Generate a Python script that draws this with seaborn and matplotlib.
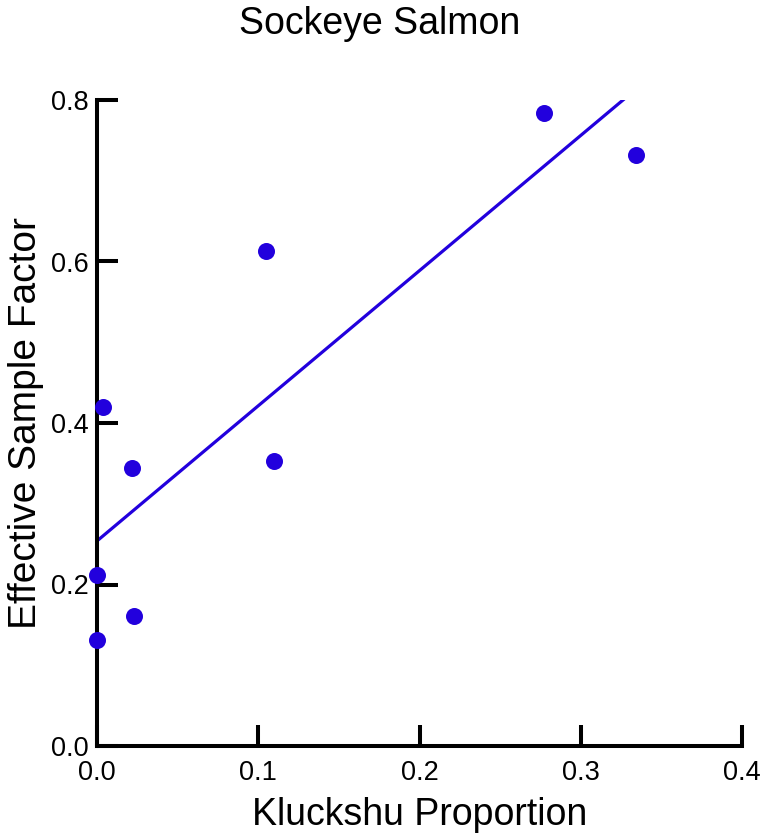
import seaborn as sns
import pandas as pd
import numpy as np
import matplotlib
matplotlib.use("Agg")
import matplotlib.pyplot as plt

sns.set_style("ticks")
plt.rcParams['font.family'] = ['Liberation Sans', 'DejaVu Sans']
plt.rcParams['text.color'] = 'black'
plt.rcParams['axes.labelcolor'] = 'black'
plt.rcParams['xtick.color'] = 'black'
plt.rcParams['ytick.color'] = 'black'

# values
kluckshu = [0.277, 0.334, 0.105, 0.004, 0.022, 0.110, 0.0, 0.023, 0.0]
factor = [0.784, 0.732, 0.613, 0.420, 0.344, 0.353, 0.212, 0.161, 0.131]
xticks = [0.0, 0.1, 0.2, 0.3, 0.4]
yticks = [0.0, 0.2, 0.4, 0.6, 0.8]

df = pd.DataFrame({"Kluckshu Proportion": kluckshu, "Effective Sample Factor": factor})
blue = "#2200DD"

fig = plt.figure(figsize=(7.68, 8.38), dpi=100)
ax = fig.add_axes([97/768, 92/838, 645/768, 646/838])
ax.set_xlim(0, 0.4)
ax.set_ylim(0, 0.8)

sns.regplot(data=df, x="Kluckshu Proportion", y="Effective Sample Factor", ax=ax,
            ci=None, truncate=False, color=blue,
            scatter_kws={"s": 150, "clip_on": False, "alpha": 1, "linewidths": 0, "zorder": 4},
            line_kws={"lw": 2.3})
ax.set_xlim(0, 0.4)
ax.set_ylim(0, 0.8)

ax.set_xticks(xticks)
ax.set_yticks(yticks)
ax.set_xticklabels([f"{t:.1f}" for t in xticks])
ax.set_yticklabels([f"{t:.1f}" for t in yticks])
ax.tick_params(direction="in", length=15, width=2.9, labelsize=19.5, color="black", labelcolor="black")
ax.tick_params(axis="x", pad=10)
ax.tick_params(axis="y", pad=6)
sns.despine(ax=ax)
for s in ["left", "bottom"]:
    ax.spines[s].set_linewidth(2.9)
    ax.spines[s].set_color("black")
    ax.spines[s].set_capstyle("projecting")

ax.set_xlabel("Kluckshu Proportion", fontsize=27, labelpad=8)
ax.set_ylabel("Effective Sample Factor", fontsize=28, labelpad=5)
fig.text(380/768, 1 - 24/838, "Sockeye Salmon", fontsize=27, ha="center", va="center")

fig.savefig("out.png", dpi=100)
